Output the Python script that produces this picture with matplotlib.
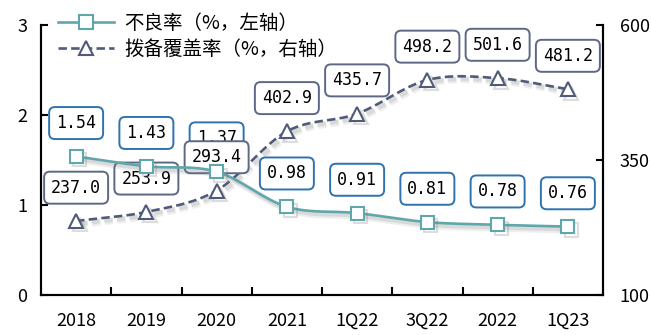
import numpy as np
import matplotlib
matplotlib.use("Agg")
import matplotlib.pyplot as plt
import matplotlib.patheffects as pe

plt.rcParams['font.family'] = ['Noto Sans CJK SC', 'DejaVu Sans']

categories = ["2018", "2019", "2020", "2021", "1Q22", "3Q22", "2022", "1Q23"]
npl_ratio = [1.54, 1.43, 1.37, 0.98, 0.91, 0.81, 0.78, 0.76]
provision_cov = [237.0, 253.9, 293.4, 402.9, 435.7, 498.2, 501.6, 481.2]
npl_labels = ["1.54", "1.43", "1.37", "0.98", "0.91", "0.81", "0.78", "0.76"]
cov_labels = ["237.0", "253.9", "293.4", "402.9", "435.7", "498.2", "501.6", "481.2"]
left_ticks = [0, 1, 2, 3]
right_ticks = [100, 350, 600]
legend_npl = "不良率（%，左轴）"
legend_cov = "拨备覆盖率（%，右轴）"

TEAL = "#5FA7AA"
NAVY = "#4F5B78"
BOX_BLUE = "#2E73B0"
BOX_GRAY = "#5D6886"


def catmull_rom(xs, ys, n=30):
    xs = np.asarray(xs, float)
    ys = np.asarray(ys, float)
    px = np.concatenate([[2 * xs[0] - xs[1]], xs, [2 * xs[-1] - xs[-2]]])
    py = np.concatenate([[2 * ys[0] - ys[1]], ys, [2 * ys[-1] - ys[-2]]])
    outx, outy = [], []
    for i in range(1, len(px) - 2):
        t = np.linspace(0, 1, n, endpoint=(i == len(px) - 3))
        for arr, out in ((px, outx), (py, outy)):
            p0, p1, p2, p3 = arr[i - 1], arr[i], arr[i + 1], arr[i + 2]
            c1 = p1 + (p2 - p0) / 6.0
            c2 = p2 - (p3 - p1) / 6.0
            b = ((1 - t) ** 3 * p1 + 3 * (1 - t) ** 2 * t * c1
                 + 3 * (1 - t) * t ** 2 * c2 + t ** 3 * p2)
            out.extend(b)
    return np.array(outx), np.array(outy)


fig = plt.figure(figsize=(6.51, 3.35), dpi=100)
ax = fig.add_axes([41 / 651, 1 - 295 / 335, (603 - 41) / 651, (295 - 25) / 335])
ax2 = ax.twinx()

x = np.arange(len(categories))
ax.set_xlim(-0.5, len(categories) - 0.5)
ax.set_ylim(0, 3)
ax2.set_ylim(100, 600)

shadow = [pe.SimpleLineShadow(offset=(2.5, -2.5), shadow_color="#7a7a7a", alpha=0.12, linewidth=5),
          pe.SimpleLineShadow(offset=(2, -2), shadow_color="#7a7a7a", alpha=0.18, linewidth=3),
          pe.Normal()]
mshadow = [pe.SimpleLineShadow(offset=(2.5, -2.5), shadow_color="#7a7a7a", alpha=0.25),
           pe.Normal()]

# provision coverage line (right axis)
sx, sy = catmull_rom(x, provision_cov)
ax2.plot(sx, sy, color=NAVY, lw=1.9, ls=(0, (3.2, 1.6)), zorder=2, path_effects=shadow)
ax2.plot(x, provision_cov, ls="none", marker="^", ms=10, mfc="white", mec=NAVY, mew=1.5,
         zorder=2.5, path_effects=mshadow)

# NPL line (left axis) drawn in top axes using left transform
tx, ty = catmull_rom(x, npl_ratio)
ax2.plot(tx, ty, color=TEAL, lw=1.9, zorder=5, transform=ax.transData, path_effects=shadow)
ax2.plot(x, npl_ratio, ls="none", marker="s", ms=9.5, mfc="white", mec=TEAL, mew=1.5,
         zorder=5.5, transform=ax.transData, path_effects=mshadow)

box_kw = dict(boxstyle="round,pad=0.42,rounding_size=0.35", fc="white", lw=1.4)
for xi, v, s in zip(x, npl_ratio, npl_labels):
    ax2.annotate(s, xy=(xi, v), xycoords=ax.transData, xytext=(0, 24), textcoords="offset points",
                 ha="center", va="center", fontsize=12, family="DejaVu Sans Mono", zorder=3,
                 bbox=dict(ec=BOX_BLUE, **box_kw))
for xi, v, s in zip(x, provision_cov, cov_labels):
    ax2.annotate(s, xy=(xi, v), xycoords=ax2.transData, xytext=(0, 24), textcoords="offset points",
                 ha="center", va="center", fontsize=12, family="DejaVu Sans Mono", zorder=4,
                 bbox=dict(ec=BOX_GRAY, **box_kw))

# axes styling
for a in (ax, ax2):
    a.spines["top"].set_visible(False)
    for s in ("left", "right", "bottom"):
        a.spines[s].set_linewidth(1.5)
        a.spines[s].set_color("black")

ax.set_yticks(left_ticks)
ax.set_yticklabels([str(t) for t in left_ticks])
ax.tick_params(axis="y", direction="in", length=5, width=1.5, labelsize=13, pad=10)
ax2.set_yticks(right_ticks)
ax2.set_yticklabels([str(t) for t in right_ticks])
ax2.tick_params(axis="y", direction="in", length=5, width=1.5, labelsize=13, pad=12)

bounds = np.arange(len(categories) + 1) - 0.5
ax.set_xticks(bounds[1:-1])
ax.set_xticklabels([])
ax.tick_params(axis="x", which="major", direction="in", length=6, width=1.5)
ax.set_xticks(x, minor=True)
ax.set_xticklabels(categories, minor=True)
ax.tick_params(axis="x", which="minor", length=0, labelsize=13, pad=12)

# legend
h1 = plt.Line2D([], [], color=TEAL, lw=1.9, marker="s", ms=9.5, mfc="white", mec=TEAL, mew=1.5)
h2 = plt.Line2D([], [], color=NAVY, lw=1.9, ls=(0, (3.2, 1.6)), marker="^", ms=10, mfc="white",
                mec=NAVY, mew=1.5)
leg = ax2.legend([h1, h2], [legend_npl, legend_cov], loc="upper left",
                 bbox_to_anchor=(58 / 651, 1 - 13 / 335), bbox_transform=fig.transFigure,
                 frameon=False, prop={"size": 14}, handlelength=2.9, handletextpad=0.5,
                 borderpad=0, borderaxespad=0, labelspacing=0.25)
leg.set_zorder(10)

fig.savefig("out.png", dpi=100)
